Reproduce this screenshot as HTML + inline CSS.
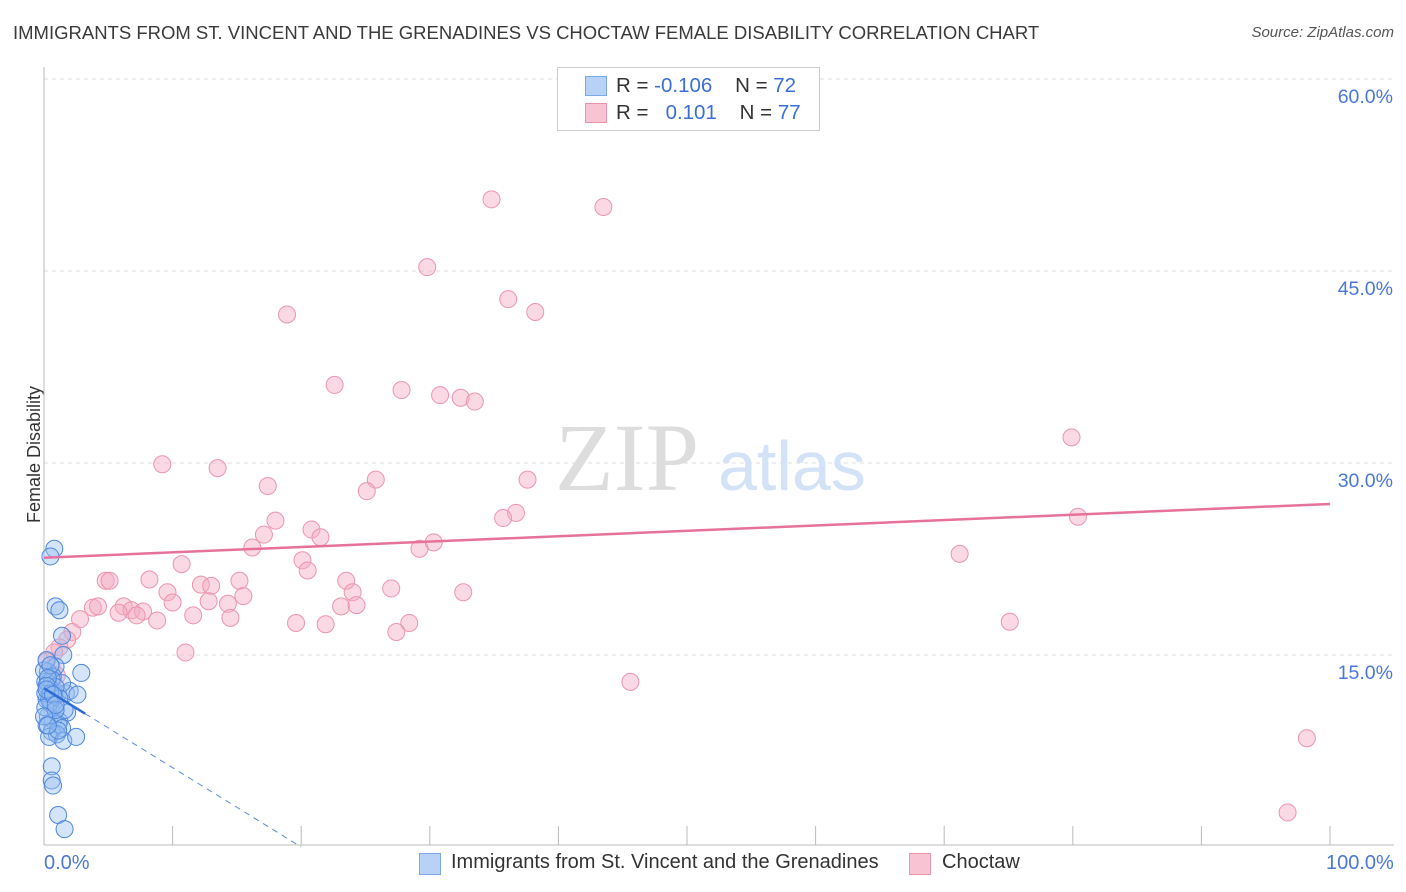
<!DOCTYPE html>
<html><head><meta charset="utf-8"><style>
body{margin:0;background:#fff;font-family:"Liberation Sans",sans-serif;}
#wrap{position:relative;width:1406px;height:892px;overflow:hidden}
.t{position:absolute;white-space:nowrap}
</style></head><body><div id="wrap">
<div class="t" style="left:13px;top:22px;font-size:18.5px;color:#3a3a3a">IMMIGRANTS FROM ST. VINCENT AND THE GRENADINES VS CHOCTAW FEMALE DISABILITY CORRELATION CHART</div>
<div class="t" style="right:12px;top:24px;font-size:15px;color:#555;font-style:italic">Source: ZipAtlas.com</div>
<div class="t" style="left:-34px;top:444px;font-size:18px;color:#333;transform:rotate(-90deg)">Female Disability</div>
<svg id="svg" width="1406" height="892" style="position:absolute;left:0;top:0"></svg>
<div style="position:absolute;left:557px;top:67px;width:261px;height:62px;border:1px solid #ccc;background:#fff;font-size:20.5px;color:#333">
 <div style="position:absolute;left:27px;top:8px;width:20px;height:18px;background:#b8d2f5;border:1px solid #7aa8e8"></div>
 <div class="t" style="left:58px;top:6px">R = <span style="color:#3b6fd6">-0.106</span>&nbsp;&nbsp;&nbsp; N = <span style="color:#3b6fd6">72</span></div>
 <div style="position:absolute;left:27px;top:35px;width:20px;height:18px;background:#f8c4d3;border:1px solid #eb95ad"></div>
 <div class="t" style="left:58px;top:33px">R = &nbsp;&nbsp;<span style="color:#3b6fd6">0.101</span>&nbsp;&nbsp;&nbsp; N = <span style="color:#3b6fd6">77</span></div>
</div>
<div class="t" style="left:44px;top:852px;font-size:20px;color:#4a78d8">0.0%</div>
<div class="t" style="left:1326px;top:852px;font-size:20px;color:#4a78d8">100.0%</div>
<div>
 <div style="position:absolute;left:419px;top:853px;width:20px;height:20px;background:#b8d2f5;border:1px solid #7aa8e8"></div>
 <div class="t" style="left:451px;top:851px;font-size:20px;color:#333">Immigrants from St. Vincent and the Grenadines</div>
 <div style="position:absolute;left:909px;top:853px;width:20px;height:20px;background:#f8c4d3;border:1px solid #eb95ad"></div>
 <div class="t" style="left:942px;top:851px;font-size:20px;color:#333">Choctaw</div>
</div>
</div>
<script>
const yTicks=[15,30,45,60];
const yTickLabels=["15.0%","30.0%","45.0%","60.0%"];
const pinkX=[34.8,43.5,29.8,36.1,38.2,18.9,22.6,27.8,30.8,32.4,33.5,79.9,9.2,13.5,37.6,25.8,17.4,25.1,36.7,35.7,80.4,18.0,20.8,17.1,21.5,30.3,16.2,29.2,71.2,20.1,10.7,20.5,4.8,5.1,8.2,15.2,23.5,12.2,13.0,9.6,24.0,32.6,27.0,15.5,10.0,12.8,3.8,4.2,6.2,6.8,7.7,23.1,24.3,14.3,11.6,5.8,7.2,21.9,28.4,8.8,14.5,19.6,2.8,75.1,27.4,2.2,1.8,1.2,11.0,0.8,45.6,98.2,96.7,0.6,1.0,0.2,0.5];
const pinkY=[50.6,50.0,45.3,42.8,41.8,41.6,36.1,35.7,35.3,35.1,34.8,32.0,29.9,29.6,28.7,28.7,28.2,27.8,26.1,25.7,25.8,25.5,24.8,24.4,24.2,23.8,23.4,23.3,22.9,22.4,22.1,21.6,20.8,20.8,20.9,20.8,20.8,20.5,20.4,19.9,19.9,19.9,20.2,19.6,19.1,19.2,18.7,18.8,18.8,18.5,18.4,18.8,18.9,19.0,18.1,18.3,18.1,17.4,17.5,17.7,17.9,17.5,17.8,17.6,16.8,16.8,16.2,15.6,15.2,15.2,12.9,8.5,2.7,14.0,13.4,14.5,12.3];
const blueX=[0.8,0.5,0.9,1.2,1.4,1.5,2.9,0.9,0.3,0.7,0.1,0.5,1.1,1.7,2.0,2.6,1.4,0.2,0.6,0.9,1.8,0.3,0.7,1.2,1.1,0.2,1.4,0.6,1.0,0.4,1.5,2.5,0.5,0.1,0.3,0.6,0.9,0.0,0.2,0.5,0.8,1.2,1.6,1.1,0.6,0.6,0.7,1.1,1.6,0.3,0.2,0.5,0.4,0.1,0.2,0.7,0.9,0.0,0.3,0.9];
const blueY=[23.3,22.7,18.8,18.5,16.5,15.0,13.6,14.1,13.7,13.3,12.9,12.4,12.0,12.0,12.2,11.9,12.8,11.5,11.1,10.7,10.5,10.2,9.9,9.8,9.6,9.5,9.3,9.0,8.8,8.6,8.3,8.6,11.3,12.0,12.8,13.1,12.5,13.8,14.6,14.2,11.8,11.6,10.7,9.1,6.3,5.2,4.8,2.5,1.4,13.2,12.6,12.0,11.5,10.9,12.3,11.9,10.7,10.2,9.5,11.1];
const pinkTrend=[22.6,26.8];
const blueTrend=[12.4,0];
const X=v=>44+v*12.86, Y=v=>847-v*12.8;
const svg=document.getElementById('svg');const NS='http://www.w3.org/2000/svg';
function mk(t,a){const e=document.createElementNS(NS,t);for(const k in a)e.setAttribute(k,a[k]);svg.appendChild(e);return e;}
yTicks.forEach((t,i)=>{
 const g=mk('line',{x1:44,x2:1394,y1:Y(t),y2:Y(t),stroke:'#ddd','stroke-dasharray':'4,4'});
 
 
 const l=mk('text',{x:1393,y:Y(t)+24,'text-anchor':'end','font-size':19.5,fill:'#4a78d8','font-family':'Liberation Sans'});
 l.textContent=yTickLabels[i];
 
 
});
const ax=mk('line',{x1:44,x2:1394,y1:845,y2:845,stroke:'#bbb'});


const ay=mk('line',{x1:44,x2:44,y1:67,y2:845,stroke:'#bbb'});


for(let i=1;i<=10;i++){const tk=mk('line',{x1:X(i*10),x2:X(i*10),y1:826,y2:845,stroke:'#bbb'});
 
 }
const wm=mk('text',{x:555,y:490,'font-size':96,fill:'#ddd','font-family':'Liberation Serif'});wm.textContent='ZIP';


const wm2=mk('text',{x:718,y:490,'font-size':70,fill:'#d3e2f7','font-family':'Liberation Sans'});wm2.textContent='atlas';


pinkX.forEach((x,i)=>{const c=mk('circle',{cx:X(x),cy:Y(pinkY[i]),r:8.5,fill:'rgba(245,170,195,0.45)',stroke:'#eb95ad','stroke-width':1});
 
 });
blueX.forEach((x,i)=>{const c=mk('circle',{cx:X(x),cy:Y(blueY[i]),r:8.5,fill:'rgba(150,190,240,0.4)',stroke:'#4f86dd','stroke-width':1});
 
 });
const pl=mk('line',{x1:X(0),y1:Y(pinkTrend[0]),x2:X(100),y2:Y(pinkTrend[1]),stroke:'#e6719a','stroke-width':2.5});


const bt=x=>blueTrend[0]+(blueTrend[1]-blueTrend[0])*x/20;
const bs=mk('line',{x1:X(0),y1:Y(bt(0)),x2:X(3.2),y2:Y(bt(3.2)),stroke:'#2f6bd6','stroke-width':2.5});


const bd=mk('line',{x1:X(3.2),y1:Y(bt(3.2)),x2:X(20),y2:Y(bt(20)),stroke:'#5a8ce0','stroke-width':1,'stroke-dasharray':'6,5'});


</script></body></html>
